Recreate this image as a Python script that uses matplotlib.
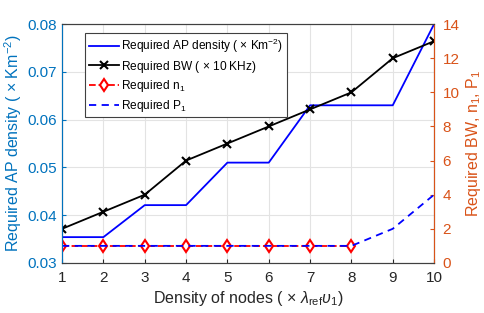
import numpy as np
import matplotlib.pyplot as plt

plt.rcParams['font.family'] = ['Liberation Sans', 'DejaVu Sans']
plt.rcParams['mathtext.fontset'] = 'custom'
plt.rcParams['mathtext.rm'] = 'Liberation Sans'
plt.rcParams['mathtext.it'] = 'Liberation Sans:italic'

nodes = [1, 2, 3, 4, 5, 6, 7, 8, 9, 10]
ap_density = [0.0354, 0.0354, 0.0421, 0.0421, 0.0510, 0.0510, 0.0630, 0.0630, 0.0630, 0.0800]
bw = [2, 3, 4, 6, 7, 8, 9, 10, 12, 13]
n1_nodes = [1, 2, 3, 4, 5, 6, 7, 8]
n1 = [1, 1, 1, 1, 1, 1, 1, 1]
p1 = [1, 1, 1, 1, 1, 1, 1, 1, 2, 4]

c_left = '#0072BD'
c_right = '#D95319'

fig = plt.figure(figsize=(4.85, 3.13), dpi=100)
ax = fig.add_axes([0.128, 0.16, 0.767, 0.763])
ax2 = ax.twinx()

l1, = ax.plot(nodes, ap_density, color='blue', lw=1.3)
l2, = ax2.plot(nodes, bw, color='black', lw=1.3, marker='x', ms=6, mew=1.5)
l3, = ax2.plot(n1_nodes, n1, color='red', lw=1.3, ls='--', marker='d', ms=6.5,
               mfc='white', mec='red', mew=1.5)
l4, = ax2.plot(nodes, p1, color='blue', lw=1.3, ls=(0, (4, 3)))
l3.set_zorder(1)

ax.set_xlim(1, 10)
ax.set_ylim(0.03, 0.08)
ax2.set_ylim(0, 14)
ax.set_xticks(nodes)
ax.set_yticks([0.03, 0.04, 0.05, 0.06, 0.07, 0.08])
ax2.set_yticks([0, 2, 4, 6, 8, 10, 12, 14])
ax.grid(True, color='#e3e3e3', lw=0.8)

for a in (ax, ax2):
    a.tick_params(direction='in', length=3, labelsize=11)
    for s in a.spines.values():
        s.set_color('#404040')
ax.tick_params(axis='y', colors=c_left, labelcolor=c_left, pad=4)
ax.tick_params(axis='x', colors='#262626', pad=6)
ax2.tick_params(axis='y', colors=c_right, labelcolor=c_right, pad=6)
ax2.spines['left'].set_color(c_left)
ax2.spines['right'].set_color(c_right)

ax.set_xlabel(r'Density of nodes ( $\times$ $\lambda_{\mathrm{ref}}\upsilon_1$)', fontsize=11.5, color='#262626', labelpad=3)
ax.set_ylabel(r'Required AP density ( $\times$ Km$^{-2}$)', fontsize=11.5, color=c_left, labelpad=2)
ax2.set_ylabel(r'Required BW, n$_1$, P$_1$', fontsize=11.5, color=c_right, labelpad=3)

leg = ax2.legend([l1, l2, l3, l4],
                 [r'Required AP density ( $\times$ Km$^{-2}$)', r'Required BW ( $\times$ 10 KHz)',
                  r'Required n$_1$', r'Required P$_1$'],
                 loc='upper left', bbox_to_anchor=(0.062, 0.962), fontsize=8.6,
                 fancybox=False, framealpha=1, edgecolor='#404040', handlelength=2.5,
                 handletextpad=0.2, borderpad=0.3, borderaxespad=0, labelspacing=0.3)
leg.get_frame().set_linewidth(0.8)

fig.savefig('out.png', dpi=100)
